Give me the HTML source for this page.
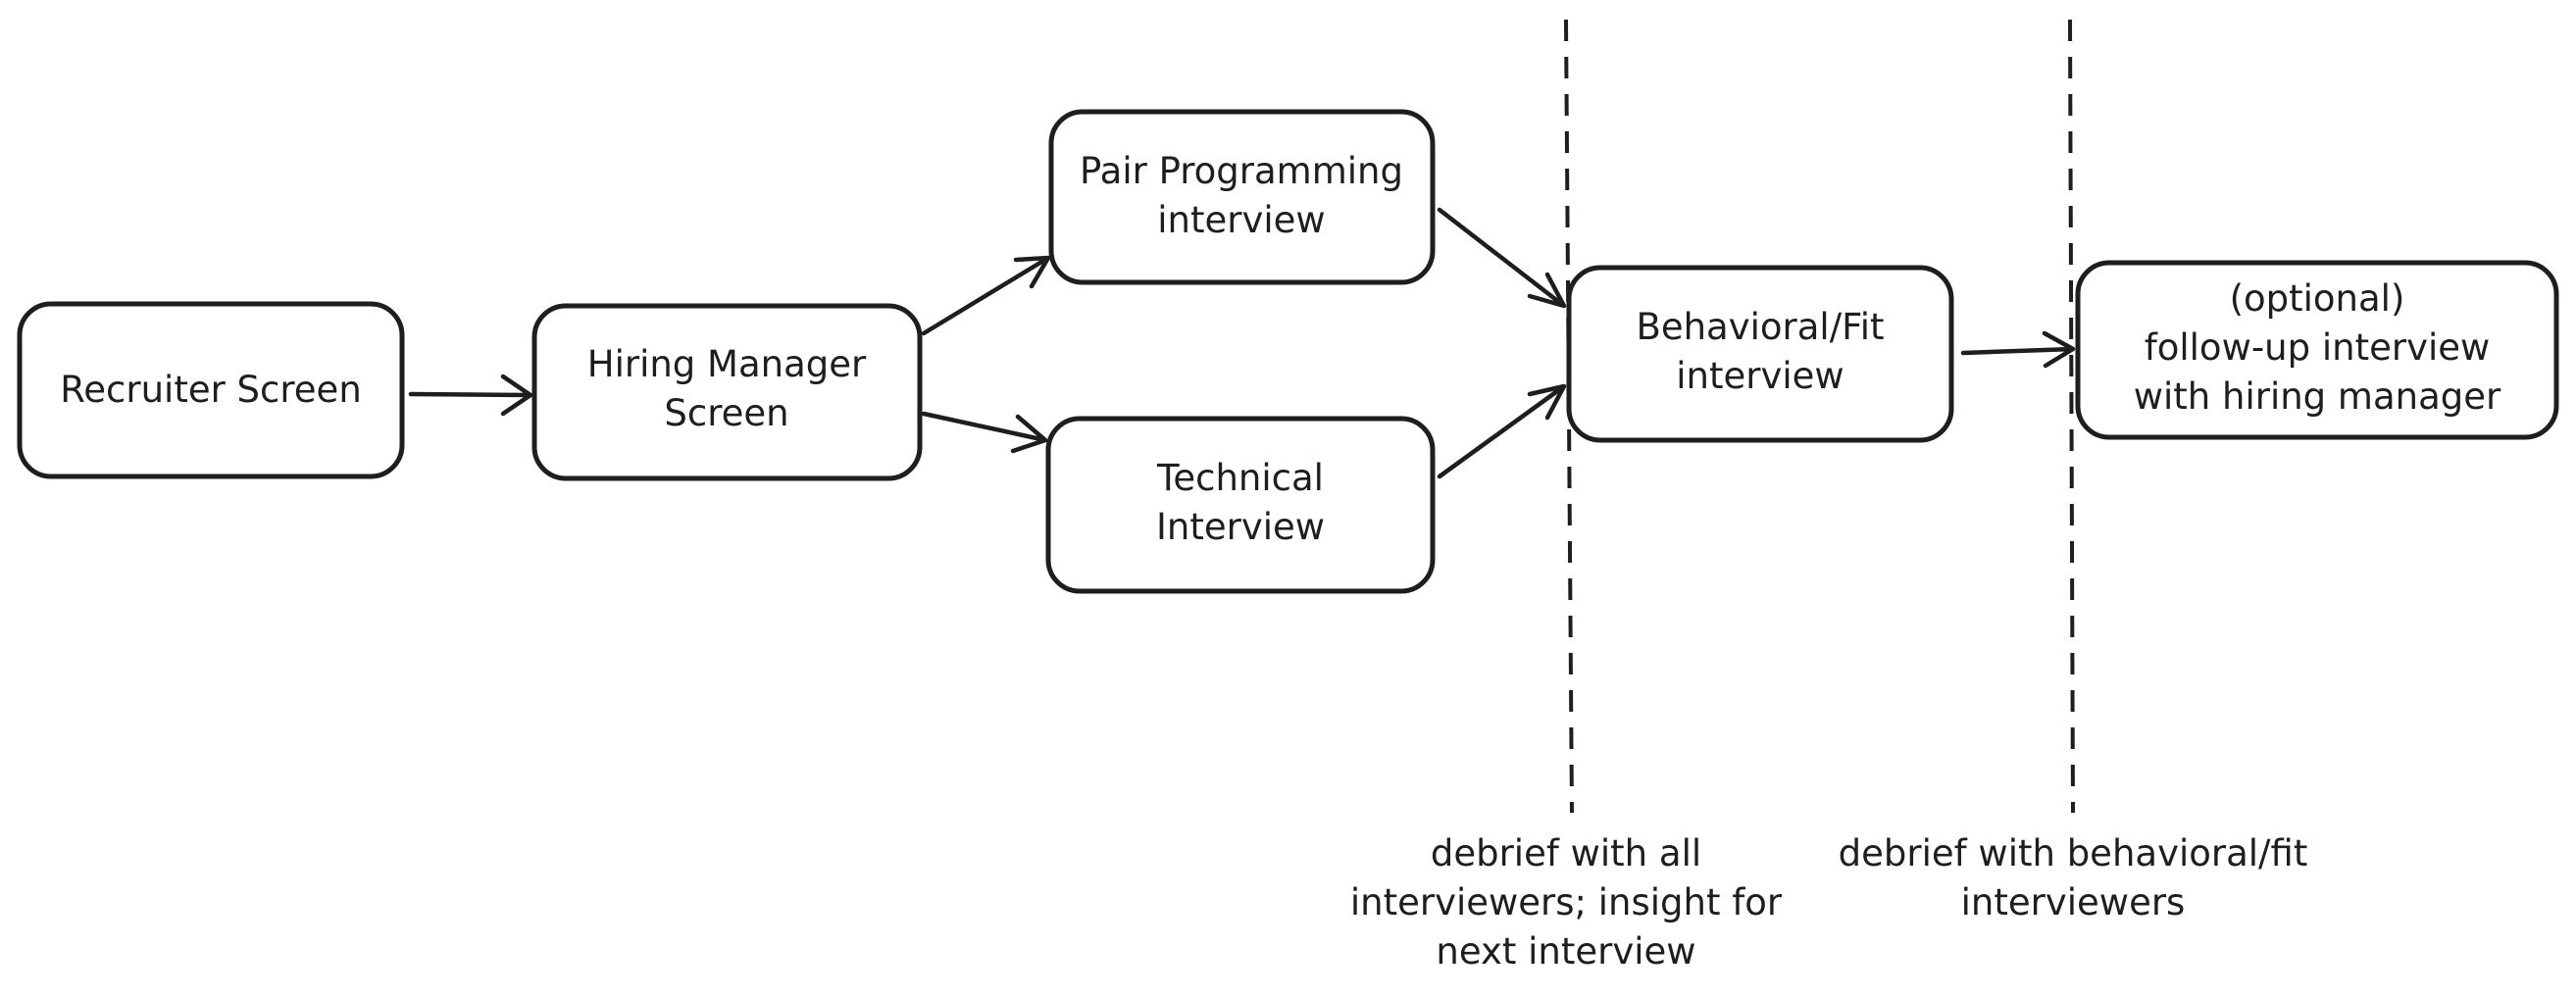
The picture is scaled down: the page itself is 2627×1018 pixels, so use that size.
<!DOCTYPE html>
<html><head><meta charset="utf-8"><style>
html,body{margin:0;padding:0;background:#fff;}
svg{display:block;}
text{font-family:"DejaVu Sans","Liberation Sans",sans-serif;font-size:37px;fill:#1e1e1e;text-anchor:middle;}
.b{fill:#fff;stroke:#1e1e1e;stroke-width:5;}
.l{stroke:#1e1e1e;stroke-width:4.5;fill:none;stroke-linecap:round;stroke-linejoin:round;}
.d{stroke:#1e1e1e;stroke-width:4;stroke-dasharray:22 16;}
</style></head><body>
<svg width="2627" height="1018" viewBox="0 0 2627 1018" xmlns="http://www.w3.org/2000/svg">
<line class="d" x1="1597" y1="20" x2="1603" y2="829"/>
<line class="d" x1="2111" y1="20" x2="2114" y2="829"/>
<rect class="b" x="20" y="310" width="390" height="176" rx="32"/>
<rect class="b" x="545" y="312" width="393" height="176" rx="32"/>
<rect class="b" x="1072" y="114" width="389" height="174" rx="32"/>
<rect class="b" x="1069" y="427" width="392" height="176" rx="32"/>
<rect class="b" x="1600" y="273" width="390" height="176" rx="32"/>
<rect class="b" x="2119" y="268" width="488" height="178" rx="32"/>
<text x="215" y="410">Recruiter Screen</text>
<text x="741" y="384">Hiring Manager</text>
<text x="741" y="434">Screen</text>
<text x="1266" y="187">Pair Programming</text>
<text x="1266" y="237">interview</text>
<text x="1265" y="500">Technical</text>
<text x="1265" y="550">Interview</text>
<text x="1795" y="346">Behavioral/Fit</text>
<text x="1795" y="396">interview</text>
<text x="2363" y="317">(optional)</text>
<text x="2363" y="367">follow-up interview</text>
<text x="2363" y="417">with hiring manager</text>
<text x="1597" y="883">debrief with all</text>
<text x="1597" y="933">interviewers; insight for</text>
<text x="1597" y="983">next interview</text>
<text x="2114" y="883">debrief with behavioral/fit</text>
<text x="2114" y="933">interviewers</text>
<path class="l" d="M419 402 L541 403 M513 384 L541 403 L513 422"/>
<path class="l" d="M942 340 L1069 263 M1036 265 L1069 263 L1052 292"/>
<path class="l" d="M942 422 L1066 449 M1038 425 L1066 449 L1033 460"/>
<path class="l" d="M1468 214 L1595 312 M1578 280 L1595 312 L1560 302"/>
<path class="l" d="M1468 486 L1595 394 M1560 402 L1595 394 L1578 426"/>
<path class="l" d="M2002 360 L2114 356 M2085 340 L2114 356 L2086 373"/>
</svg>
</body></html>
